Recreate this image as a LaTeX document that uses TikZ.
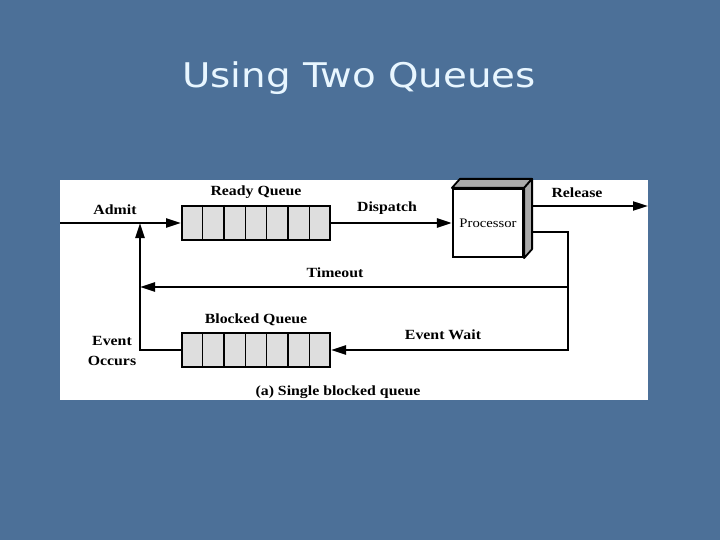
\documentclass[tikz,border=0pt]{standalone}
\usepackage{fontspec}
\usetikzlibrary{arrows.meta, positioning, calc}
\newfontfamily\figfont[FakeStretch=1.13]{Liberation Serif}
\newfontfamily\titlefont[FakeStretch=1.14]{DejaVu Sans}
\definecolor{slideblue}{RGB}{76,112,152}
\definecolor{titlewhite}{RGB}{232,246,255}
\definecolor{queuegray}{RGB}{222,222,222}
\definecolor{facegray}{RGB}{170,170,170}

\begin{document}
\begin{tikzpicture}[x=1pt, y=-1pt, >={Triangle[length=15pt,width=9pt]},
  lbl/.style={font=\figfont\fontsize{14}{20}\selectfont\bfseries, inner sep=1pt},
  queue/.style={draw, line width=2pt, fill=queuegray,
                minimum width=148pt, minimum height=34pt},
  flow/.style={line width=2.5pt}]
  \useasboundingbox (0,0) rectangle (720,540);
  \fill[slideblue] (0,0) rectangle (720,540);
  \fill[white] (60,180) rectangle (648,400);

  \node[font=\titlefont\fontsize{34}{40}\selectfont, text=titlewhite,
        anchor=base] (title) at (359,88) {Using Two Queues};

  % queues
  \node[queue] (ready) at (256,223) {};
  \node[queue] (blocked) at (256,350) {};
  \foreach \q in {ready, blocked}
    \foreach \i in {1,...,6}
      \draw[line width=1.5pt] ($(\q.north west)!\i/7!(\q.north east)$)
        -- ($(\q.south west)!\i/7!(\q.south east)$);
  \node[lbl, above=5pt of ready] (readylbl) {Ready Queue};
  \node[lbl, above=5pt of blocked] (blockedlbl) {Blocked Queue};

  % processor box
  \node[draw, line width=2.2pt, fill=white, minimum width=70pt,
        minimum height=68pt, font=\figfont\fontsize{13}{15}\selectfont]
    (proc) at (488,223) {Processor};
  \filldraw[fill=facegray, line width=1.8pt, line join=round]
    (proc.north west) -- ++(8,-9) -- ($(proc.north east)+(8,-9)$)
    -- (proc.north east) -- cycle;
  \filldraw[fill=facegray, line width=1.8pt, line join=round]
    (proc.north east) -- ++(8,-9) -- ($(proc.south east)+(8,-9)$)
    -- (proc.south east) -- cycle;

  \coordinate (admit) at (60,223);
  \coordinate (relout) at (531,206);
  \coordinate (relend) at (648,206);
  \coordinate (toout) at (531,232);
  \coordinate (toturn) at (568,287);
  \coordinate (toend) at (140,287);
  \coordinate (evup) at (140,223);

  \draw[flow, ->] (admit) -- (ready.west);
  \draw[flow, ->] (ready.east) -- (proc.west);
  \draw[line width=2pt, ->] (relout) -- (relend);
  \draw[line width=2pt] (toout) -| (toturn);
  \draw[flow, ->] (toturn) -- (toend);
  \draw[flow, ->] (toturn) |- (blocked.east);
  \draw[flow, ->] (blocked.west) -| (evup);

  \node[lbl] (admitlbl) at (115,210) {Admit};
  \node[lbl] (displbl) at (387,208) {Dispatch};
  \node[lbl] (rellbl) at (577,193) {Release};
  \node[lbl] (tolbl) at (335,273) {Timeout};
  \node[lbl] (waitlbl) at (443,335) {Event Wait};
  \node[lbl, align=center] (occlbl) at (112,351) {Event\\Occurs};
  \node[lbl] (caption) at (338,392) {(a) Single blocked queue};
\end{tikzpicture}
\end{document}
